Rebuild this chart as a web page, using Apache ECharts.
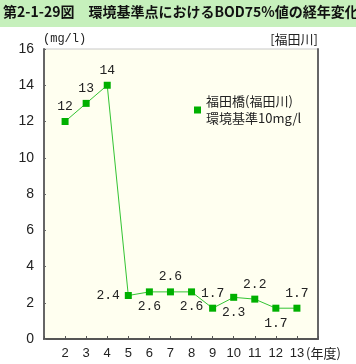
<!DOCTYPE html>
<html><head><meta charset="utf-8">
<script src="https://cdn.jsdelivr.net/npm/echarts@6/dist/echarts.min.js"></script>
<style>html,body{margin:0;padding:0;background:#fff}#c{width:356px;height:364px}</style>
</head><body><div id="c"></div>
<script>
const years = [2,3,4,5,6,7,8,9,10,11,12,13];
const values = [12,13,14,2.4,2.6,2.6,2.6,1.7,2.3,2.2,1.7,1.7];
const labelPos = ['top','top','top','left','bottom','top','bottom','top','bottom','top','bottom','top'];
const yTicks = [0,2,4,6,8,10,12,14,16];
const seriesName = '福田橋(福田川)\n環境基準10mg/l';
const titleText = '第2-1-29図　環境基準点におけるBOD75%値の経年変化';

const chart = echarts.init(document.getElementById('c'), null, {renderer:'canvas'});
const cjk = '"Noto Sans CJK JP", sans-serif';
const mono = '"Liberation Mono", "DejaVu Sans Mono", monospace';
chart.setOption({
  animation:false,
  backgroundColor:'#fff',
  graphic:[
    {type:'rect', left:0, top:0, shape:{width:356,height:27}, style:{fill:'#c6f0bc'}},
    {type:'text', left:3, top:5, style:{text:titleText, font:'bold 14px '+cjk, fill:'#111'}},
    {type:'text', left:43, top:33, style:{text:'(mg/l)', font:'12px '+mono, fill:'#222'}},
    {type:'text', right:38, top:33, style:{text:'[福田川]', font:'13px '+cjk, fill:'#222'}},
    {type:'text', left:306, top:347, style:{text:'(年度)', font:'13px '+cjk, fill:'#222'}}
  ],
  grid:{left:44, right:38, top:49, bottom:25, show:true, backgroundColor:'#fffff0', borderColor:'#c8c8c8', borderWidth:1},
  legend:{
    left:189, top:88, orient:'vertical', icon:'rect', itemWidth:7, itemHeight:7, itemGap:4,
    textStyle:{fontSize:13, fontFamily:'Noto Sans CJK JP', color:'#222', lineHeight:17},
    data:[seriesName]
  },
  xAxis:{
    type:'value', min:1, max:14, interval:1,
    axisLine:{lineStyle:{color:'#555', width:2}},
    axisTick:{inside:true, length:3, lineStyle:{color:'#555'}},
    splitLine:{show:false},
    axisLabel:{color:'#222', fontSize:13, fontFamily:'Liberation Sans', margin:8,
      formatter:v => years.indexOf(v) >= 0 ? String(v) : ''}
  },
  yAxis:[{
    type:'value', min:0, max:16, interval:2,
    axisLine:{show:true, lineStyle:{color:'#666', width:2}},
    axisTick:{show:true, inside:true, length:2, lineStyle:{color:'#666'}},
    splitLine:{show:false},
    axisLabel:{color:'#222', fontSize:14, fontFamily:'Liberation Sans', margin:10,
      formatter:v => yTicks.indexOf(v) >= 0 ? String(v) : ''}
  },{
    type:'value', min:0, max:16, interval:2, position:'right',
    axisLine:{show:true, lineStyle:{color:'#666', width:2}},
    axisTick:{show:false}, axisLabel:{show:false}, splitLine:{show:false}
  }],
  series:[{
    name:seriesName, type:'line',
    data: years.map((y,i) => ({value:[y, values[i]], label:{position:labelPos[i]}})),
    symbol:'rect', symbolSize:7,
    itemStyle:{color:'#00b000'},
    lineStyle:{color:'#33c433', width:1},
    label:{show:true, distance:5, color:'#222', fontSize:13, fontFamily:'Liberation Mono',
      formatter:p => String(p.value[1])}
  }]
});
</script></body></html>
